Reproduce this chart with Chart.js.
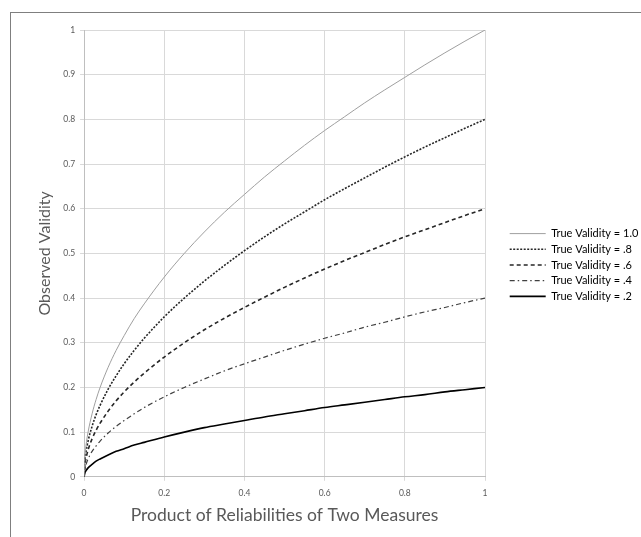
<!DOCTYPE html>
<html>
<head>
<meta charset="utf-8">
<script src="https://cdn.jsdelivr.net/npm/chart.js@4.4.0/dist/chart.umd.min.js"></script>
<style>
  html, body { margin: 0; padding: 0; background: #fff; }
  #wrap { position: relative; width: 641px; height: 537px; overflow: hidden; }
  #frame { position: absolute; left: 10px; top: 12px; width: 700px; height: 600px;
           border-left: 1px solid #7f7f7f; border-top: 1px solid #7f7f7f; }
  canvas { position: absolute; left: 0; top: 0; }
</style>
</head>
<body>
<div id="wrap">
  <div id="frame"></div>
  <canvas id="validityChart" width="641" height="537"></canvas>
</div>
<script>
const reliability = [0, 0.0025, 0.005, 0.01, 0.02, 0.03, 0.04, 0.06, 0.08, 0.1, 0.125, 0.15, 0.2, 0.25, 0.3, 0.35, 0.4, 0.45, 0.5, 0.55, 0.6, 0.65, 0.7, 0.75, 0.8, 0.85, 0.9, 0.95, 1];
const valid10 = [0, 0.05, 0.071, 0.1, 0.141, 0.173, 0.2, 0.245, 0.283, 0.316, 0.354, 0.387, 0.447, 0.5, 0.548, 0.592, 0.632, 0.671, 0.707, 0.742, 0.775, 0.806, 0.837, 0.866, 0.894, 0.922, 0.949, 0.975, 1];
const valid08 = [0, 0.04, 0.057, 0.08, 0.113, 0.139, 0.16, 0.196, 0.226, 0.253, 0.283, 0.31, 0.358, 0.4, 0.438, 0.473, 0.506, 0.537, 0.566, 0.593, 0.62, 0.645, 0.669, 0.693, 0.716, 0.738, 0.759, 0.78, 0.8];
const valid06 = [0, 0.03, 0.042, 0.06, 0.085, 0.104, 0.12, 0.147, 0.17, 0.19, 0.212, 0.232, 0.268, 0.3, 0.329, 0.355, 0.379, 0.402, 0.424, 0.445, 0.465, 0.484, 0.502, 0.52, 0.537, 0.553, 0.569, 0.585, 0.6];
const valid04 = [0, 0.02, 0.028, 0.04, 0.057, 0.069, 0.08, 0.098, 0.113, 0.126, 0.141, 0.155, 0.179, 0.2, 0.219, 0.237, 0.253, 0.268, 0.283, 0.297, 0.31, 0.322, 0.335, 0.346, 0.358, 0.369, 0.379, 0.39, 0.4];
const valid02 = [0, 0.01, 0.014, 0.02, 0.028, 0.035, 0.04, 0.049, 0.057, 0.063, 0.071, 0.077, 0.089, 0.1, 0.11, 0.118, 0.126, 0.134, 0.141, 0.148, 0.155, 0.161, 0.167, 0.173, 0.179, 0.184, 0.19, 0.195, 0.2];

const xTicks = [0, 0.2, 0.4, 0.6, 0.8, 1];
const yTicks = [0, 0.1, 0.2, 0.3, 0.4, 0.5, 0.6, 0.7, 0.8, 0.9, 1];

const seriesLabels = ['True Validity = 1.0', 'True Validity = .8', 'True Validity = .6', 'True Validity = .4', 'True Validity = .2'];
const seriesValues = [valid10, valid08, valid06, valid04, valid02];

function points(values) {
    return values.map((v, i) => ({ x: reliability[i], y: v }));
}

// Legende etwas vom Plot abrücken (wie im Original)
const legendShift = {
    id: 'legendShift',
    beforeLayout(chart) {
        const legend = chart.legend;
        if (legend && !legend._patched) {
            const fit = legend.fit.bind(legend);
            legend.fit = function() { fit(); this.width = 156; };
            legend._patched = true;
        }
    },
    afterLayout(chart) {
        const legend = chart.legend;
        legend.left += 20;
        legend.top -= 15;
        legend.bottom -= 15;
    }
};

document.addEventListener('DOMContentLoaded', function() {
    const ctx = document.getElementById('validityChart');

    // Linienstile wie im Original
    const styles = [
        { color: '#9f9f9f', width: 1, dash: [] },
        { color: '#262626', width: 1.6, dash: [2, 1.5] },
        { color: '#262626', width: 1.6, dash: [4, 3] },
        { color: '#404040', width: 1.2, dash: [5, 3, 1.5, 3] },
        { color: '#000000', width: 1.6, dash: [] }
    ];

    new Chart(ctx, {
        type: 'line',
        data: {
            datasets: seriesValues.map((vals, i) => ({
                label: seriesLabels[i],
                data: points(vals),
                borderColor: styles[i].color,
                backgroundColor: styles[i].color,
                borderWidth: styles[i].width,
                borderDash: styles[i].dash,
                pointRadius: 0,
                cubicInterpolationMode: 'monotone',
                fill: false
            }))
        },
        plugins: [legendShift],
        options: {
            responsive: false,
            animation: false,
            layout: { padding: { left: 31, top: 30, right: 0, bottom: 7 } },
            plugins: {
                tooltip: { enabled: false },
                legend: {
                    position: 'right',
                    labels: {
                        usePointStyle: true,
                        pointStyle: 'line',
                        pointStyleWidth: 36,
                        boxHeight: 8,
                        padding: 4.7,
                        color: '#595959',
                        font: { family: 'Lato', size: 11 },
                        generateLabels: chart => chart.data.datasets.map((ds, i) => ({
                            text: ds.label,
                            datasetIndex: i,
                            fillStyle: ds.borderColor,
                            strokeStyle: ds.borderColor,
                            lineWidth: ds.borderWidth,
                            lineDash: ds.borderDash,
                            pointStyle: 'line',
                            hidden: false
                        }))
                    }
                }
            },
            scales: {
                x: {
                    type: 'linear',
                    min: 0,
                    max: 1,
                    afterBuildTicks: axis => { axis.ticks = xTicks.map(v => ({ value: v })); },
                    ticks: { color: '#595959', font: { family: 'Lato', size: 8.5 }, padding: 7,
                             maxRotation: 0, callback: v => String(v) },
                    grid: { color: '#d9d9d9', tickLength: 4 },
                    border: { color: '#bfbfbf' },
                    title: { display: true, text: 'Product of Reliabilities of Two Measures',
                             color: '#595959', font: { family: 'Lato', size: 17.5 }, padding: { top: 0, bottom: 4 } }
                },
                y: {
                    min: 0,
                    max: 1,
                    afterBuildTicks: axis => { axis.ticks = yTicks.map(v => ({ value: v })); },
                    ticks: { color: '#595959', font: { family: 'Lato', size: 8.5 }, padding: 5,
                             callback: v => String(v) },
                    grid: { color: '#d9d9d9', tickLength: 4 },
                    border: { color: '#bfbfbf' },
                    title: { display: true, text: 'Observed Validity',
                             color: '#595959', font: { family: 'Lato', size: 16 }, padding: { top: 4, bottom: 4 } }
                }
            }
        }
    });
});
</script>
</body>
</html>
